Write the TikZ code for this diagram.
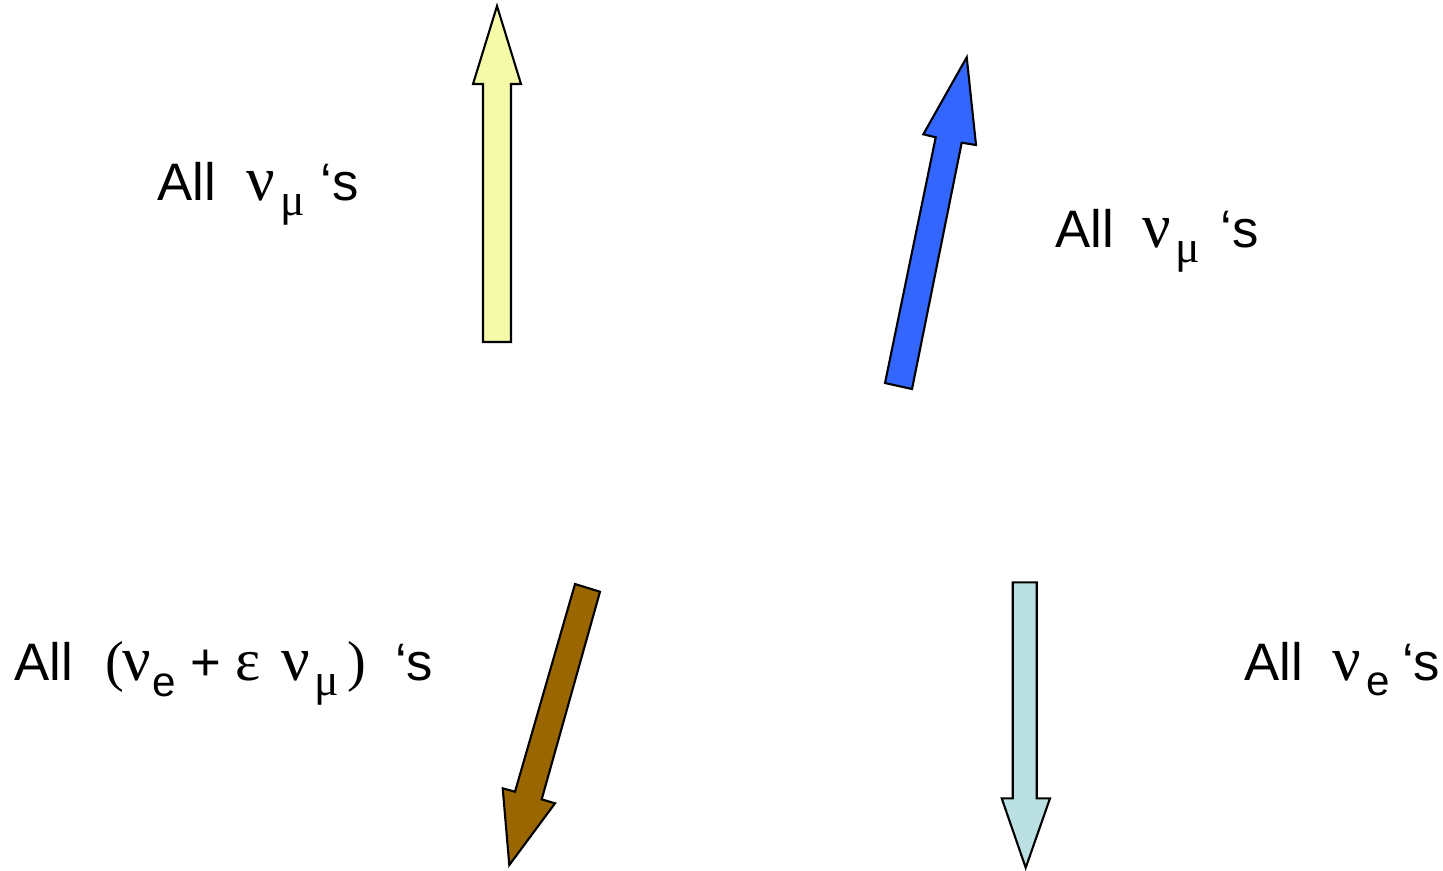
\documentclass[tikz,border=0pt]{standalone}
\usepackage{fontspec}
\setmainfont{Liberation Sans}
\newfontfamily\grk{Liberation Serif}
\definecolor{ayellow}{HTML}{F4FAA8}
\definecolor{ablue}{HTML}{3366FF}
\definecolor{abrown}{HTML}{996600}
\definecolor{alight}{HTML}{BBE0E3}
\newcommand{\pc}[3]{\makebox[0pt][l]{\hspace{#1mm}\raisebox{#2mm}{#3}}}
\newcommand{\gnu}{{\fontsize{18}{20}\selectfont\grk ν}}
\newcommand{\smu}{{\fontsize{13}{15}\selectfont\grk μ}}
\newcommand{\se}{{\fontsize{12}{14}\selectfont e}}
\newcommand{\geps}{{\fontsize{17}{19}\selectfont\grk ε}}
\newcommand{\gpar}[1]{{\fontsize{16}{18}\selectfont\grk #1}}
\begin{document}
\begin{tikzpicture}[x=0.1mm,y=-0.1mm,
  blockarrow/.style={draw=black,line width=0.6pt,line join=miter},
  lbl/.style={anchor=base west,inner sep=0pt,font=\fontsize{15}{18}\selectfont}]
\useasboundingbox (0,0) rectangle (1443,870);
% arrows
\draw[blockarrow,fill=ayellow] (483,342) -- (483,84) -- (473,84) -- (497,6) -- (521,84) -- (511,84) -- (511,342) -- cycle;
\draw[blockarrow,fill=ablue] (885,383) -- (935.7,137.3) -- (923.3,134.3) -- (966.7,57.3) -- (976,145) -- (961.7,142.7) -- (912,389) -- cycle;
\draw[blockarrow,fill=abrown] (575,584) -- (515,791.7) -- (502.7,788.3) -- (509.3,865) -- (555,803.3) -- (541.7,799.3) -- (600,591.7) -- cycle;
\draw[blockarrow,fill=alight] (1012.7,582.3) -- (1012.7,798.3) -- (1001.7,798.3) -- (1025.7,867.7) -- (1050,798.3) -- (1036.7,798.3) -- (1036.7,582.3) -- cycle;
% labels
\node[lbl] (t1) at (157,200) {\pc{0}{0}{All}\pc{8.9}{0}{\gnu}\pc{12.3}{-1.5}{\smu}\hspace{16.3mm}‘s};
\node[lbl] (t2) at (1055,247) {\pc{0}{0}{All}\pc{8.7}{0}{\gnu}\pc{12.0}{-1.5}{\smu}\hspace{16.5mm}‘s};
\node[lbl] (t3) at (13.5,680) {\pc{0}{0}{All}\pc{9.1}{0}{\gpar{(}}\pc{10.8}{0}{\gnu}\pc{13.8}{-1.6}{\se}\pc{17.6}{0}{+}\pc{22.1}{0}{\geps}\pc{26.7}{0}{\gnu}\pc{30.0}{-1.5}{\smu}\pc{33.3}{0}{\gpar{)}}\hspace{38.1mm}‘s};
\node[lbl] (t4) at (1243.5,680) {\pc{0}{0}{All}\pc{8.8}{0}{\gnu}\pc{12.2}{-1.5}{\se}\hspace{15.8mm}‘s};
\end{tikzpicture}
\end{document}
